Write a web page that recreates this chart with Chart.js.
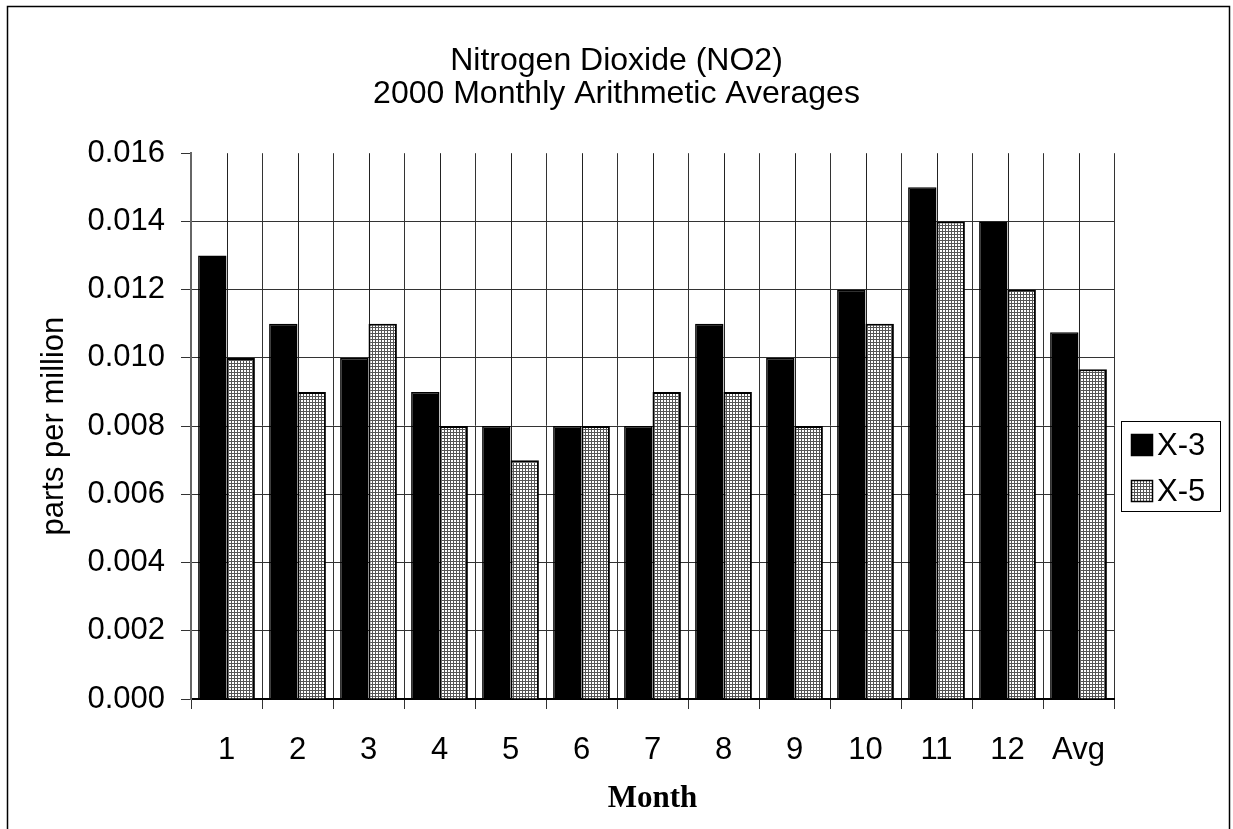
<!DOCTYPE html>
<html>
<head>
<meta charset="utf-8">
<script src="https://cdn.jsdelivr.net/npm/chart.js@4.4.1/dist/chart.umd.min.js"></script>
<style>
  html, body { margin: 0; padding: 0; background: #fff; }
  #wrap { width: 1233px; height: 829px; }
</style>
</head>
<body>
<div id="wrap"><canvas id="c" width="1233" height="829"></canvas></div>
<script>
// Monthly NO2 arithmetic averages, 2000 (ppm)
const months = ['1', '2', '3', '4', '5', '6', '7', '8', '9', '10', '11', '12', 'Avg'];
const seriesNames = ['X-3', 'X-5'];
const x3Values = [0.013, 0.011, 0.010, 0.009, 0.008, 0.008, 0.008, 0.011, 0.010, 0.012, 0.015, 0.014, 0.01075];
const x5Values = [0.010, 0.009, 0.011, 0.008, 0.007, 0.008, 0.009, 0.009, 0.008, 0.011, 0.014, 0.012, 0.00967];
const yTickValues = [0, 0.002, 0.004, 0.006, 0.008, 0.010, 0.012, 0.014, 0.016];
const titleLines = ['Nitrogen Dioxide (NO2)', '2000 Monthly Arithmetic Averages'];
const yAxisTitle = 'parts per million';
const xAxisTitle = 'Month';

const SANS = '"Liberation Sans", Arial, sans-serif';
const SERIF = '"Liberation Serif", "Times New Roman", serif';

const canvas = document.getElementById('c');
const mainCtx = canvas.getContext('2d');

// fine grey/white grid fill for the second series
function gridPattern() {
  const tile = document.createElement('canvas');
  tile.width = 3; tile.height = 3;
  const g = tile.getContext('2d');
  g.fillStyle = '#555';
  g.fillRect(0, 0, 3, 3);
  g.fillStyle = '#fff';
  g.fillRect(1, 1, 2, 2);
  return mainCtx.createPattern(tile, 'repeat');
}

// vertical lines through each category centre, behind the bars
const centreLines = {
  id: 'centreLines',
  beforeDatasetsDraw(chart) {
    const { ctx, chartArea, scales } = chart;
    ctx.save();
    ctx.strokeStyle = '#222';
    ctx.lineWidth = 1;
    months.forEach((m, i) => {
      const x = Math.round(scales.x.getPixelForValue(i)) + 0.5;
      ctx.beginPath();
      ctx.moveTo(x, chartArea.top);
      ctx.lineTo(x, chartArea.bottom);
      ctx.stroke();
    });
    ctx.restore();
  }
};

// boxed legend at the right and the outer frame
const frameAndLegend = {
  id: 'frameAndLegend',
  afterDraw(chart) {
    const { ctx } = chart;
    ctx.save();
    ctx.strokeStyle = '#000';
    ctx.lineWidth = 1.5;
    ctx.strokeRect(7.5, 6.5, 1222, 900);

    const bx = 1121, by = 421, bw = 99, bh = 90;
    ctx.fillStyle = '#fff';
    ctx.fillRect(bx, by, bw, bh);
    ctx.strokeStyle = '#000';
    ctx.lineWidth = 1;
    ctx.strokeRect(bx + 0.5, by + 0.5, bw, bh);

    chart.data.datasets.forEach((ds, i) => {
      const sy = 434 + i * 46;
      ctx.fillStyle = ds.backgroundColor;
      ctx.fillRect(1131, sy, 22, 22);
      ctx.strokeStyle = '#000';
      ctx.lineWidth = 1.5;
      ctx.strokeRect(1131.5, sy + 0.5, 21, 21);
      ctx.fillStyle = '#000';
      ctx.font = '31px ' + SANS;
      ctx.textBaseline = 'middle';
      ctx.textAlign = 'left';
      ctx.fillText(ds.label, 1157, sy + 12);
    });
    ctx.restore();
  }
};

new Chart(canvas, {
  type: 'bar',
  data: {
    labels: months,
    datasets: [
      {
        label: seriesNames[0],
        data: x3Values,
        backgroundColor: '#000',
        borderColor: '#000',
        borderWidth: 1.5,
        categoryPercentage: 0.8,
        barPercentage: 1.0
      },
      {
        label: seriesNames[1],
        data: x5Values,
        backgroundColor: gridPattern(),
        borderColor: '#000',
        borderWidth: 2,
        categoryPercentage: 0.8,
        barPercentage: 1.0
      }
    ]
  },
  options: {
    responsive: false,
    animation: false,
    layout: { padding: 0 },
    plugins: {
      legend: { display: false },
      tooltip: { enabled: false },
      title: {
        display: true,
        text: titleLines,
        color: '#000',
        font: { family: SANS, size: 32, weight: 'normal', lineHeight: 1.05 },
        padding: { top: 44, bottom: 42 }
      }
    },
    scales: {
      x: {
        offset: true,
        grid: {
          offset: true,
          color: '#333',
          lineWidth: 1,
          tickLength: 10,
          tickColor: '#333'
        },
        border: { color: '#000', width: 2 },
        ticks: {
          color: '#000',
          font: { family: SANS, size: 31 },
          padding: 23,
          maxRotation: 0
        },
        title: {
          display: true,
          text: xAxisTitle,
          color: '#000',
          font: { family: SERIF, size: 31, weight: 'bold' },
          padding: { top: 0, bottom: 11 }
        },
        afterFit(scale) { scale.height = 130; }
      },
      y: {
        min: 0,
        max: 0.016,
        afterBuildTicks(scale) { scale.ticks = yTickValues.map(v => ({ value: v })); },
        grid: {
          color: ctx => (ctx.tick && ctx.tick.value === 0.016 ? 'rgba(0,0,0,0)' : '#333'),
          tickColor: '#333',
          lineWidth: 1,
          tickLength: 10
        },
        border: { color: '#666', width: 2 },
        ticks: {
          color: '#000',
          font: { family: SANS, size: 31 },
          padding: 16,
          callback: v => Number(v).toFixed(3)
        },
        title: {
          display: true,
          text: yAxisTitle,
          color: '#000',
          font: { family: SANS, size: 31 },
          padding: { top: 36, bottom: 0 }
        },
        afterFit(scale) { scale.width = 191; }
      },
      // empty right-hand strip that holds the legend
      side: {
        type: 'linear',
        position: 'right',
        display: true,
        grid: { display: false, drawTicks: false },
        border: { display: false },
        ticks: { display: false },
        afterFit(scale) { scale.width = 119; }
      }
    }
  },
  plugins: [centreLines, frameAndLegend]
});
</script>
</body>
</html>
